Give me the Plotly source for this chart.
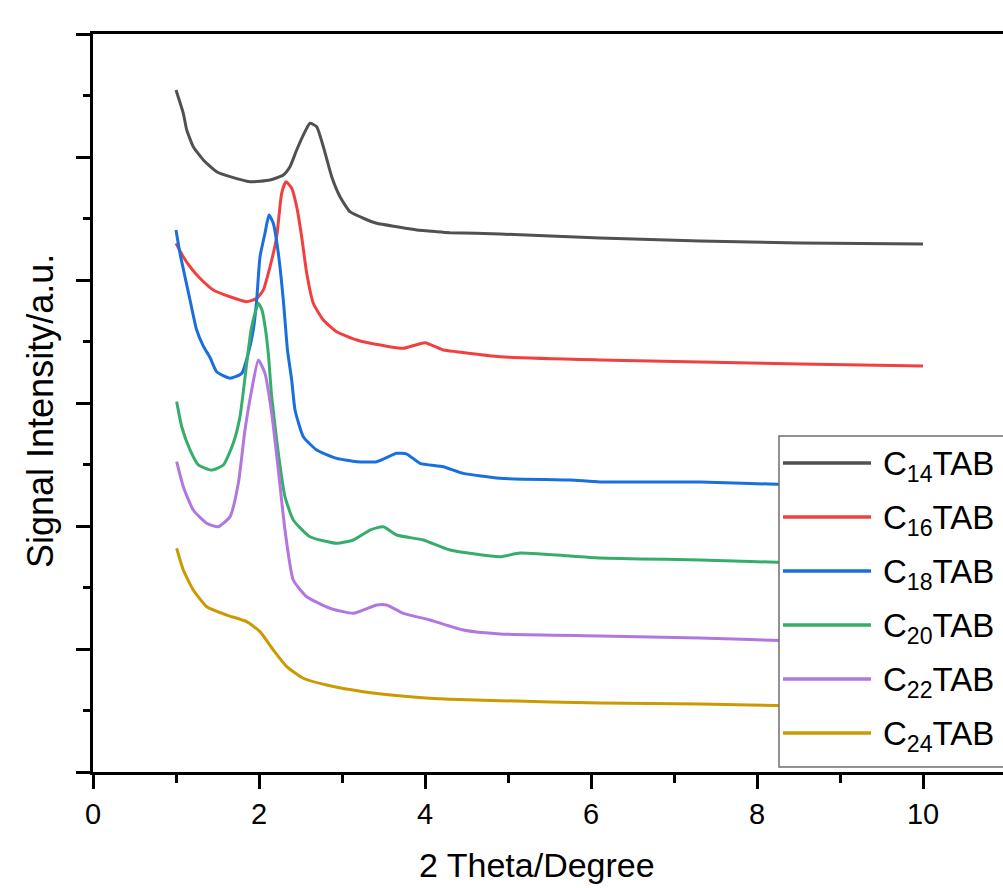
import plotly.graph_objects as go

# ---------------- data ----------------
names = ["C<sub>14</sub>TAB", "C<sub>16</sub>TAB", "C<sub>18</sub>TAB",
         "C<sub>20</sub>TAB", "C<sub>22</sub>TAB", "C<sub>24</sub>TAB"]
colors = ["#515151", "#F14040", "#1A6FDF", "#37AD6B", "#B177DE", "#CC9900"]

x_c14 = [1.00, 1.088, 1.129, 1.208, 1.329, 1.490, 1.651, 1.892, 2.133, 2.293, 2.373, 2.454,
         2.554, 2.614, 2.695, 2.775, 2.876, 2.976, 3.096, 3.257, 3.418, 3.659, 3.900, 4.141,
         4.301, 4.904, 6.108, 7.313, 8.518, 10.0]
y_c14 = [5.545, 5.355, 5.220, 5.084, 4.976, 4.880, 4.840, 4.799, 4.813, 4.854, 4.921, 5.057,
         5.206, 5.274, 5.246, 5.084, 4.840, 4.677, 4.555, 4.502, 4.461, 4.433, 4.407, 4.393,
         4.385, 4.374, 4.341, 4.317, 4.301, 4.293]

x_c16 = [1.00, 1.088, 1.169, 1.289, 1.449, 1.651, 1.852, 1.972, 2.052, 2.133, 2.213, 2.273,
         2.325, 2.394, 2.454, 2.514, 2.575, 2.654, 2.775, 2.936, 3.177, 3.498, 3.739, 4.000,
         4.220, 4.382, 4.904, 6.108, 7.313, 8.518, 10.0]
y_c16 = [4.298, 4.189, 4.108, 4.014, 3.919, 3.864, 3.824, 3.851, 3.919, 4.108, 4.352, 4.705,
         4.799, 4.746, 4.596, 4.352, 4.054, 3.811, 3.675, 3.580, 3.512, 3.467, 3.445, 3.490,
         3.431, 3.417, 3.376, 3.350, 3.333, 3.317, 3.301]

x_c18 = [1.00, 1.048, 1.108, 1.169, 1.249, 1.329, 1.410, 1.490, 1.651, 1.792, 1.871, 1.931,
         1.972, 2.012, 2.072, 2.120, 2.172, 2.233, 2.293, 2.343, 2.394, 2.434, 2.534, 2.695,
         2.936, 3.177, 3.418, 3.659, 3.780, 3.940, 4.220, 4.461, 4.904, 5.747, 6.108, 7.313,
         8.518, 10.0]
y_c18 = [4.407, 4.217, 4.027, 3.837, 3.593, 3.463, 3.370, 3.254, 3.201, 3.241, 3.404, 3.593,
         3.837, 4.189, 4.380, 4.528, 4.461, 4.217, 3.837, 3.431, 3.187, 2.943, 2.726, 2.618,
         2.550, 2.523, 2.523, 2.591, 2.585, 2.510, 2.482, 2.428, 2.388, 2.374, 2.358, 2.358,
         2.333, 2.317]

x_c20 = [1.008, 1.069, 1.169, 1.269, 1.430, 1.570, 1.690, 1.771, 1.852, 1.904, 1.940, 1.992,
         2.036, 2.072, 2.112, 2.153, 2.233, 2.313, 2.413, 2.614, 2.936, 3.136, 3.337, 3.498,
         3.659, 3.980, 4.301, 4.904, 5.145, 6.108, 7.313, 8.518, 10.0]
y_c20 = [3.011, 2.807, 2.618, 2.496, 2.455, 2.496, 2.672, 2.889, 3.323, 3.593, 3.702, 3.811,
         3.756, 3.626, 3.404, 3.051, 2.591, 2.238, 2.049, 1.913, 1.859, 1.886, 1.967, 1.994,
         1.927, 1.886, 1.805, 1.750, 1.780, 1.740, 1.724, 1.699, 1.683]

x_c22 = [1.008, 1.088, 1.208, 1.370, 1.510, 1.651, 1.751, 1.831, 1.912, 1.992, 2.072, 2.153,
         2.233, 2.313, 2.413, 2.575, 2.855, 3.136, 3.418, 3.537, 3.739, 4.060, 4.461, 4.904,
         6.108, 7.313, 8.518, 10.0]
y_c22 = [2.523, 2.320, 2.130, 2.022, 1.994, 2.076, 2.347, 2.780, 3.106, 3.350, 3.241, 2.916,
         2.455, 1.967, 1.561, 1.425, 1.331, 1.290, 1.358, 1.358, 1.290, 1.236, 1.154, 1.122,
         1.106, 1.089, 1.065, 1.049]

x_c24 = [1.008, 1.088, 1.208, 1.370, 1.611, 1.852, 2.012, 2.172, 2.334, 2.534, 2.816, 3.257,
         3.819, 4.301, 4.904, 6.108, 7.313, 8.518, 10.0]
y_c24 = [1.819, 1.642, 1.480, 1.344, 1.276, 1.222, 1.141, 0.992, 0.856, 0.762, 0.707, 0.653,
         0.612, 0.591, 0.580, 0.561, 0.553, 0.537, 0.520]

xs = [x_c14, x_c16, x_c18, x_c20, x_c22, x_c24]
ys = [y_c14, y_c16, y_c18, y_c20, y_c22, y_c24]

x_ticks = [0, 2, 4, 6, 8, 10]
x_title = "2 Theta/Degree"
y_title = "Signal Intensity/a.u."

# ---------------- layout geometry (pixels) ----------------
W, H = 1003, 888
L, R, T, B = 93, 0, 34, 116
PW, PH = W - L - R, H - T - B
FONT = "Liberation Sans, Arial, sans-serif"


def px(xp):
    return (xp - L) / PW


def py(yp):
    return (H - B - yp) / PH


fig = go.Figure()
for xv, yv, nm, col in zip(xs, ys, names, colors):
    fig.add_trace(go.Scatter(x=xv, y=yv, mode="lines", name=nm,
                             line=dict(color=col, width=3, shape="spline", smoothing=0.5),
                             showlegend=False))

fig.update_layout(
    width=W, height=H,
    margin=dict(l=L, r=R, t=T, b=B, pad=0),
    paper_bgcolor="white", plot_bgcolor="white",
    font=dict(family=FONT, color="black"),
    xaxis=dict(range=[0, PW / 83.0], tickvals=x_ticks, ticktext=[str(v) for v in x_ticks],
               showline=True, linecolor="black", linewidth=3, mirror=True,
               ticks="outside", ticklen=14, tickwidth=3, tickcolor="black",
               minor=dict(dtick=1, ticks="outside", ticklen=8, tickwidth=2.5, tickcolor="black"),
               showgrid=False, zeroline=False,
               tickfont=dict(size=29, family=FONT, color="black")),
    yaxis=dict(range=[0, 6], dtick=1, showticklabels=False,
               showline=True, linecolor="black", linewidth=3, mirror=False,
               ticks="outside", ticklen=14, tickwidth=3, tickcolor="black",
               minor=dict(dtick=0.5, ticks="outside", ticklen=7, tickwidth=2.5, tickcolor="black"),
               showgrid=False, zeroline=False),
)

# axis titles
fig.add_annotation(text=x_title, xref="paper", yref="paper", x=px(537), y=py(865),
                   xanchor="center", yanchor="middle", showarrow=False,
                   font=dict(size=34, family=FONT, color="black"))
fig.add_annotation(text=y_title, xref="paper", yref="paper", x=px(40), y=py(411),
                   xanchor="center", yanchor="middle", textangle=-90, showarrow=False,
                   font=dict(size=36, family=FONT, color="black"))

# legend box (drawn manually to match the long sample lines)
fig.add_shape(type="rect", xref="paper", yref="paper",
              x0=px(779), x1=px(1012), y0=py(767), y1=py(436),
              line=dict(color="#6e6e6e", width=1.5), fillcolor="white", layer="above")
leg_y = [463, 517, 571, 625, 679, 733]
for yy, nm, col in zip(leg_y, names, colors):
    fig.add_shape(type="line", xref="paper", yref="paper",
                  x0=px(783), x1=px(871), y0=py(yy), y1=py(yy),
                  line=dict(color=col, width=3.5), layer="above")
    fig.add_annotation(text=nm, xref="paper", yref="paper", x=px(881), y=py(yy + 3),
                       xanchor="left", yanchor="middle", showarrow=False,
                       font=dict(size=33, family=FONT, color="black"))

fig.write_html("out.html")
